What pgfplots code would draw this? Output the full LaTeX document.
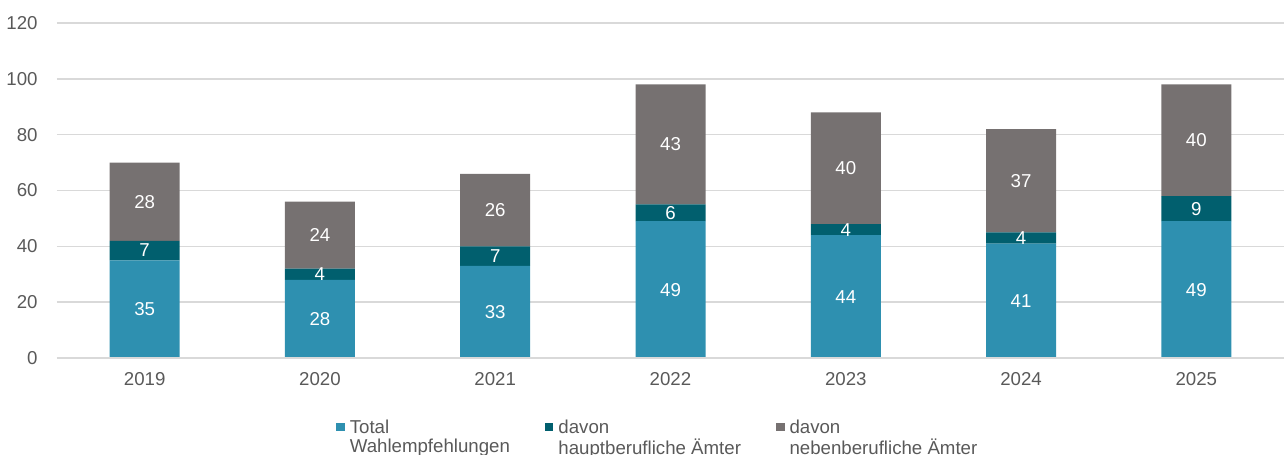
\documentclass[border=0pt]{standalone}
\usepackage{pgfplots}
\usepackage{pgfplotstable}
\pgfplotsset{compat=1.18}
\usepackage{fontspec}
\setmainfont{Liberation Sans}
\definecolor{cTotal}{HTML}{2E90B0}
\definecolor{cHaupt}{HTML}{015F6E}
\definecolor{cNeben}{HTML}{767171}
\definecolor{cTick}{HTML}{595959}
\definecolor{cGrid}{HTML}{D9D9D9}
\pgfplotstableread{
x total haupt neben
0 35 7 28
1 28 4 24
2 33 7 26
3 49 6 43
4 44 4 40
5 41 4 37
6 49 9 40
}\datatable
\pgfplotstableread{
x y label
0 17.5 35
0 38.5 7
0 56 28
1 14 28
1 30 4
1 44 24
2 16.5 33
2 36.5 7
2 53 26
3 24.5 49
3 52 6
3 76.5 43
4 22 44
4 46 4
4 68 40
5 20.5 41
5 43 4
5 63.5 37
6 24.5 49
6 53.5 9
6 78 40
}\labeltable
\begin{document}
\begin{tikzpicture}
\useasboundingbox (-42.75pt,-72pt) rectangle (921pt,268.5pt);
\pgfplotsset{common/.style={scale only axis, width=920.25pt, height=251.25pt,
  xmin=-0.5, xmax=6.5, ymin=0, ymax=120, at={(0pt,0pt)}, anchor=south west}}
\begin{axis}[common, ybar stacked, bar width=52.5pt,
  axis line style={draw=none},
  ymajorgrids, grid style={cGrid, line width=1.1pt},
  major tick length=0pt,
  ytick={0,20,...,120},
  xtick={0,1,2,3,4,5,6},
  xticklabels={2019,2020,2021,2022,2023,2024,2025},
  tick label style={font=\fontsize{14}{16.8}\selectfont, text=cTick},
  /pgf/number format/assume math mode=true,
  yticklabel style={/pgf/number format/1000 sep={}},
  yticklabel style={xshift=-11pt},
  xticklabel style={yshift=-7.5pt},
  legend columns=3,
  legend cell align=left,
  legend image code/.code={\fill[#1] (0pt,-2.6pt) rectangle (6.6pt,3.9pt);},
  legend style={at={(0.2274,-0.185)}, anchor=north west, draw=none, fill=none,
    inner sep=0pt, outer sep=0pt, font=\fontsize{14}{14}\selectfont, text=cTick,
    nodes={inner sep=0pt},
    /tikz/every odd column/.append style={column sep=3.75pt},
    /tikz/every even column/.append style={column sep=26pt}},
]
\draw[cGrid, line width=1.1pt] (axis cs:-0.5,0) -- (axis cs:6.5,0);
\addplot[fill=cTotal, draw=none] table[x=x,y=total]{\datatable};
\addlegendentry{\begin{tabular}[t]{@{}l@{}}Total\\Wahlempfehlungen\end{tabular}}
\addplot[fill=cHaupt, draw=none] table[x=x,y=haupt]{\datatable};
\addlegendentry{\begin{tabular}[t]{@{}l@{}}davon\\hauptberufliche Ämter\end{tabular}}
\addplot[fill=cNeben, draw=none] table[x=x,y=neben]{\datatable};
\addlegendentry{\begin{tabular}[t]{@{}l@{}}davon\\nebenberufliche Ämter\end{tabular}}
\end{axis}
\begin{axis}[common, hide axis]
\addplot[only marks, mark=*, mark size=0pt, mark options={draw=none,fill=none},
  nodes near coords, point meta=explicit symbolic,
  nodes near coords style={anchor=center, text=white, font=\fontsize{14}{16.8}\selectfont}]
  table[x=x,y=y,meta=label]{\labeltable};
\end{axis}
\end{tikzpicture}
\end{document}
